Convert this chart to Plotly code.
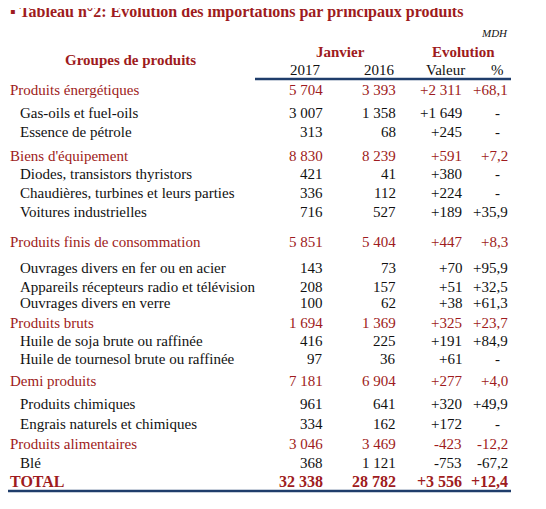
import plotly.graph_objects as go

products = ["Produits énergétiques","Gas-oils et fuel-oils","Essence de pétrole","Biens d'équipement",
 "Diodes, transistors thyristors","Chaudières, turbines et leurs parties","Voitures industrielles",
 "Produits finis de consommation","Ouvrages divers en fer ou en acier","Appareils récepteurs radio et télévision",
 "Ouvrages divers en verre","Produits bruts","Huile de soja brute ou raffinée","Huile de tournesol brute ou raffinée",
 "Demi produits","Produits chimiques","Engrais naturels et chimiques","Produits alimentaires","Blé","TOTAL"]
is_group = [1,0,0,1,0,0,0,1,0,0,0,1,0,0,1,0,0,1,0,2]
v2017 = ["5 704","3 007","313","8 830","421","336","716","5 851","143","208","100","1 694","416","97","7 181","961","334","3 046","368","32 338"]
v2016 = ["3 393","1 358","68","8 239","41","112","527","5 404","73","157","62","1 369","225","36","6 904","641","162","3 469","1 121","28 782"]
valeur = ["+2 311","+1 649","+245","+591","+380","+224","+189","+447","+70","+51","+38","+325","+191","+61","+277","+320","+172","-423","-753","+3 556"]
pct = ["+68,1","-","-","+7,2","-","-","+35,9","+8,3","+95,9","+32,5","+61,3","+23,7","+84,9","-","+4,0","+49,9","-","-12,2","-67,2","+12,4"]
row_y = [90,113,132,156,174,193,212,242,268,287,303,323,341,359,381,404,424,444,463,481]

RED = "#9e1b20"
BLACK = "#111111"
FONT = "Liberation Serif"

fig = go.Figure()
ann = []
def A(x, y, t, anchor="left", size=15, color=BLACK, bold=False, italic=False):
    if bold: t = "<b>" + t + "</b>"
    if italic: t = "<i>" + t + "</i>"
    ann.append(dict(x=x, y=y, text=t, xanchor=anchor, yanchor="middle", showarrow=False,
                    font=dict(family=FONT, size=size, color=color), xref="x", yref="y"))

A(8, 12, "▪ Tableau n°2: Evolution des importations par principaux produits", size=16, color=RED, bold=True)
A(510, 33, "MDH", anchor="right", size=11, italic=True)
A(130, 60, "Groupes de produits", anchor="center", size=15, color=RED, bold=True)
A(340, 52, "Janvier", anchor="center", size=15, color=RED, bold=True)
A(463, 52, "Evolution", anchor="center", size=15, color=RED, bold=True)
for x, t in [(305, "2017"), (379, "2016"), (445, "Valeur"), (497, "%")]:
    A(x, 70, t, anchor="center")

for i, name in enumerate(products):
    g = is_group[i]
    col = RED if g else BLACK
    y = row_y[i]
    sz = 16 if g == 2 else 15
    A(8 if g else 18, y, name, color=col, bold=(g == 2), size=sz)
    for x, v in [(325, v2017[i]), (398, v2016[i]), (464, valeur[i]), (510, pct[i])]:
        if v == "-":
            A(x - 8, y, v, anchor="right", color=col)
        else:
            A(x, y, v, anchor="right", color=col, bold=(g == 2), size=sz)

A(6, 500, "Tous les chiffres du tableau sont provisoires", size=11)

fig.add_shape(type="line", x0=255, x1=511, y0=79, y1=79, line=dict(color="#1f3d6b", width=2.5))
fig.add_shape(type="line", x0=5, x1=511, y0=491, y1=491, line=dict(color="#1f3d6b", width=2.5))

fig.update_layout(width=546, height=509, margin=dict(l=0, r=0, t=0, b=0),
                  paper_bgcolor="white", plot_bgcolor="white", annotations=ann, showlegend=False,
                  xaxis=dict(range=[8, 554], visible=False, fixedrange=True),
                  yaxis=dict(range=[517, 8], visible=False, fixedrange=True))
fig.write_html("out.html")
